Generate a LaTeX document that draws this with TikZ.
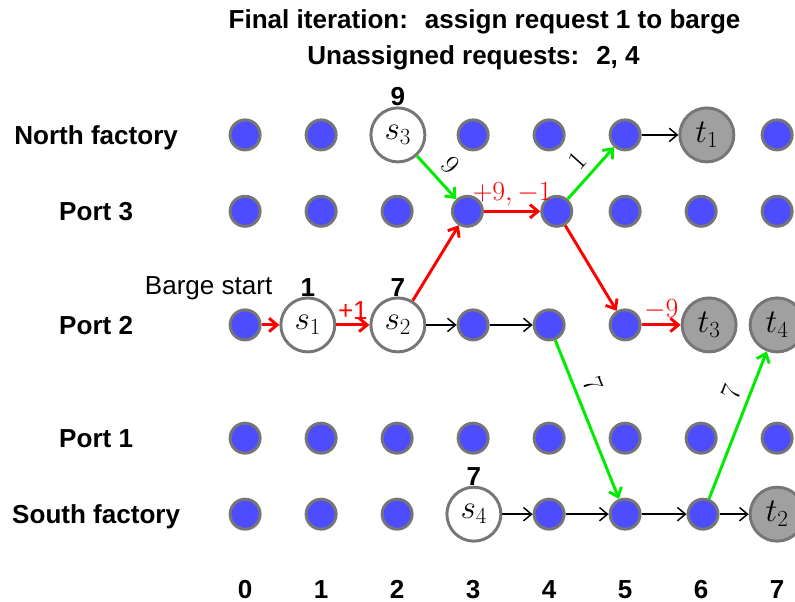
\documentclass[tikz,border=0pt]{standalone}
\usepackage{fontspec}
\setmainfont{Liberation Sans}
\usetikzlibrary{arrows.meta}
\definecolor{dotblue}{RGB}{77,77,255}
\definecolor{rim}{RGB}{118,118,118}
\definecolor{sinkgray}{RGB}{160,160,160}
\definecolor{pathred}{RGB}{255,0,0}
\definecolor{arcgreen}{RGB}{0,235,0}

\begin{document}
\begin{tikzpicture}[x=1cm,y=1cm,font=\fontsize{19.5}{23}\selectfont,>={Straight Barb[length=6pt,width=10pt]},
  dot/.style={circle, draw=rim, fill=dotblue, line width=2.2pt, minimum size=0.79cm, inner sep=0pt},
  src/.style={circle, draw=rim, fill=white, line width=2.2pt, minimum size=1.42cm, inner sep=0pt, font=\fontsize{23}{27}\selectfont},
  snk/.style={src, fill=sinkgray},
  rowname/.style={font=\fontsize{19.5}{23}\selectfont\bfseries, text height=14pt, text depth=0pt},
  stamp/.style={font=\fontsize{19.5}{23}\selectfont\bfseries, inner sep=0pt},
  redarc/.style={->, draw=pathred, line width=2.2pt},
  greenarc/.style={->, draw=arcgreen, line width=2.2pt},
  flow/.style={->, line width=1.1pt},
  cost/.style={midway, above, text=pathred, inner sep=3pt},
  wt/.style={sloped, above, inner sep=6pt}]
\path[use as bounding box] (0,0) rectangle (20.92,-15.84);

% titles
\node[font=\fontsize{19.5}{23}\selectfont\bfseries] (title1) at (12.75,-0.58) {Final iteration:~ assign request 1 to barge};
\node[font=\fontsize{19.5}{23}\selectfont\bfseries] (title2) at (12.46,-1.52) {Unassigned requests:~ 2, 4};

% row names
\node[rowname] (rn) at (2.53,-3.55) {North factory};
\node[rowname] (r3) at (2.53,-5.56) {Port 3};
\node[rowname] (r2) at (2.53,-8.55) {Port 2};
\node[rowname] (r1) at (2.53,-11.53) {Port 1};
\node[rowname] (rs) at (2.53,-13.53) {South factory};
\node (barge) at (5.49,-7.58) {Barge start};

% north factory
\node[dot] (nf0) at (6.45,-3.55) {};
\node[dot] (nf1) at (8.45,-3.55) {};
\node[src, label={[stamp]above:9}] (s3) at (10.47,-3.55) {$s_3$};
\node[dot] (nf3) at (12.45,-3.55) {};
\node[dot] (nf4) at (14.45,-3.55) {};
\node[dot] (nf5) at (16.45,-3.55) {};
\node[snk] (t1) at (18.6,-3.55) {$t_1$};
\node[dot] (nf7) at (20.45,-3.55) {};

% port 3
\node[dot] (pc0) at (6.45,-5.56) {};
\node[dot] (pc1) at (8.45,-5.56) {};
\node[dot] (pc2) at (10.45,-5.56) {};
\node[dot] (pc3) at (12.3,-5.56) {};
\node[dot] (pc4) at (14.65,-5.56) {};
\node[dot] (pc5) at (16.45,-5.56) {};
\node[dot] (pc6) at (18.45,-5.56) {};
\node[dot] (pc7) at (20.45,-5.56) {};

% port 2
\node[dot] (pb0) at (6.45,-8.55) {};
\node[src, label={[stamp]above:1}] (s1) at (8.1,-8.55) {$s_1$};
\node[src, label={[stamp]above:7}] (s2) at (10.47,-8.55) {$s_2$};
\node[dot] (pb3) at (12.45,-8.55) {};
\node[dot] (pb4) at (14.45,-8.55) {};
\node[dot] (pb5) at (16.45,-8.55) {};
\node[snk] (t3) at (18.66,-8.55) {$t_3$};
\node[snk] (t4) at (20.45,-8.55) {$t_4$};

% port 1
\node[dot] (pa0) at (6.45,-11.53) {};
\node[dot] (pa1) at (8.45,-11.53) {};
\node[dot] (pa2) at (10.45,-11.53) {};
\node[dot] (pa3) at (12.45,-11.53) {};
\node[dot] (pa4) at (14.45,-11.53) {};
\node[dot] (pa5) at (16.45,-11.53) {};
\node[dot] (pa6) at (18.45,-11.53) {};
\node[dot] (pa7) at (20.45,-11.53) {};

% south factory
\node[dot] (sf0) at (6.45,-13.53) {};
\node[dot] (sf1) at (8.45,-13.53) {};
\node[dot] (sf2) at (10.45,-13.53) {};
\node[src, label={[stamp]above:7}] (s4) at (12.47,-13.53) {$s_4$};
\node[dot] (sf4) at (14.45,-13.53) {};
\node[dot] (sf5) at (16.45,-13.53) {};
\node[dot] (sf6) at (18.5,-13.53) {};
\node[snk] (t2) at (20.45,-13.53) {$t_2$};

% time steps
\node[rowname] (k0) at (6.45,-15.5) {0};
\node[rowname] (k1) at (8.45,-15.5) {1};
\node[rowname] (k2) at (10.45,-15.5) {2};
\node[rowname] (k3) at (12.45,-15.5) {3};
\node[rowname] (k4) at (14.45,-15.5) {4};
\node[rowname] (k5) at (16.45,-15.5) {5};
\node[rowname] (k6) at (18.45,-15.5) {6};
\node[rowname] (k7) at (20.45,-15.5) {7};

% barge route
\draw[redarc] (pb0) -- (s1);
\draw[redarc] (s1) -- (s2) node[cost]{+1};
\draw[redarc] (s2) -- (pc3);
\draw[redarc] (pc3) -- (pc4) node[cost]{$+9,-1$};
\draw[redarc] (pc4) -- (pb5);
\draw[redarc] (pb5) -- (t3) node[cost]{$-9$};

% other requests
\draw[flow] (s2) -- (pb3);
\draw[flow] (pb3) -- (pb4);
\draw[greenarc] (pb4) -- (sf5) node[wt, pos=0.32]{$7$};
\draw[greenarc] (s3) -- (pc3) node[wt, pos=0.5]{$9$};
\draw[greenarc] (pc4) -- (nf5) node[wt, pos=0.5]{$1$};
\draw[flow] (nf5) -- (t1);
\draw[flow] (s4) -- (sf4);
\draw[flow] (sf4) -- (sf5);
\draw[flow] (sf5) -- (sf6);
\draw[flow] (sf6) -- (t2);
\draw[greenarc] (sf6) -- (t4) node[wt, pos=0.68]{$7$};
\end{tikzpicture}
\end{document}
